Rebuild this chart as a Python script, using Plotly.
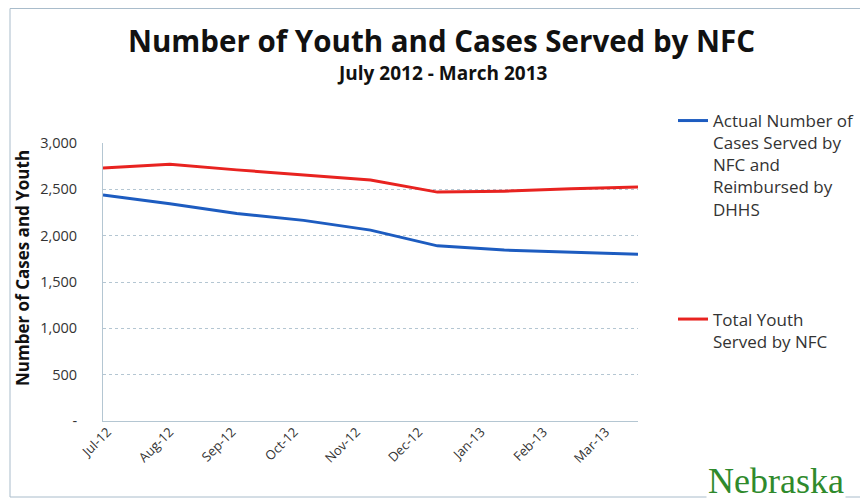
import plotly.graph_objects as go

months = ["Jul-12", "Aug-12", "Sep-12", "Oct-12", "Nov-12", "Dec-12", "Jan-13", "Feb-13", "Mar-13"]
cases_reimbursed = [2440, 2345, 2240, 2165, 2060, 1890, 1845, 1822, 1800]
total_youth = [2730, 2770, 2710, 2655, 2600, 2470, 2480, 2505, 2525]
y_ticks = [0, 500, 1000, 1500, 2000, 2500, 3000]
y_tick_text = ["-", "500", "1,000", "1,500", "2,000", "2,500", "3,000"]

# the page body adds an 8px offset; work in viewport pixels and subtract it
OFF = 8
W, H = 868 - OFF, 502 - OFF
L, R, T, B = 103 - OFF, 638 - OFF, 143 - OFF, 421 - OFF
pw, ph = R - L, B - T
FONT = "Open Sans"

def px(x):
    return (x - OFF - L) / pw

def py(y):
    return (B - (y - OFF)) / ph

fig = go.Figure()
fig.add_trace(go.Scatter(
    x=months, y=cases_reimbursed, mode="lines",
    name="Actual Number of<br>Cases Served by<br>NFC and<br>Reimbursed by<br>DHHS",
    line=dict(color="#1d5cc0", width=3), legendgroup="a"))
fig.add_trace(go.Scatter(
    x=months, y=total_youth, mode="lines",
    name="Total Youth<br>Served by NFC",
    line=dict(color="#e82320", width=3), legendgroup="b"))

grid_c = "#b4c6d2"
fig.update_layout(
    width=W, height=H,
    margin=dict(l=L, r=W - R, t=T, b=H - B, autoexpand=False),
    paper_bgcolor="white", plot_bgcolor="white",
    font=dict(family=FONT, color="#222"),
    showlegend=True,
    legend=dict(x=px(673), y=py(103), xanchor="left", yanchor="top",
                valign="top", tracegroupgap=85, maxheight=420,
                font=dict(family=FONT, size=17, color="#333"),
                bgcolor="rgba(0,0,0,0)"),
    xaxis=dict(type="category", range=[0, len(months) - 1], showticklabels=False,
               showgrid=False, showline=True, linecolor=grid_c, linewidth=1,
               zeroline=False, ticks="", automargin=False),
    xaxis2=dict(overlaying="x", anchor="y", side="bottom", range=[-0.07, 8.52],
                tickmode="array", tickvals=list(range(len(months))), ticktext=months,
                tickangle=-45, showgrid=False, showline=False, zeroline=False,
                ticks="", automargin=False,
                tickfont=dict(family=FONT, size=13, color="#333")),
    yaxis=dict(range=[0, 3000], tickmode="array", tickvals=y_ticks, ticktext=y_tick_text,
               showgrid=True, gridcolor=grid_c, gridwidth=1, griddash="dot",
               showline=True, linecolor=grid_c, linewidth=1, zeroline=False,
               ticks="", ticklabelstandoff=22, automargin=False,
               tickfont=dict(family=FONT, size=14.5, color="#333")),
)

# invisible helper trace so the label axis is active
fig.add_trace(go.Scatter(x=[0], y=[None], xaxis="x2", showlegend=False,
                         hoverinfo="skip", mode="lines"))

fig.add_annotation(text="<b>Number of Youth and Cases Served by NFC</b>",
                   xref="paper", yref="paper", x=px(441), y=py(40),
                   xanchor="center", yanchor="middle", showarrow=False,
                   font=dict(family=FONT, size=29.5, color="#111"))
fig.add_annotation(text="<b>July 2012 - March 2013</b>",
                   xref="paper", yref="paper", x=px(442), y=py(73),
                   xanchor="center", yanchor="middle", showarrow=False,
                   font=dict(family=FONT, size=19, color="#111"))
fig.add_annotation(text="<b>Number of Cases and Youth</b>",
                   xref="paper", yref="paper", x=px(22), y=py(268),
                   xanchor="center", yanchor="middle", textangle=-90, showarrow=False,
                   font=dict(family=FONT, size=17, color="#111"))
fig.add_annotation(text="Nebraska",
                   xref="paper", yref="paper", x=px(706), y=py(481),
                   xanchor="left", yanchor="middle", showarrow=False,
                   bgcolor="white",
                   font=dict(family="Liberation Serif", size=36, color="#2f8a2c"))

# outer chart border
fig.add_shape(type="rect", xref="paper", yref="paper",
              x0=px(10), x1=px(890), y0=py(497), y1=py(8.5),
              line=dict(color="#a9bccb", width=1), layer="below")

fig.write_html("out.html")
